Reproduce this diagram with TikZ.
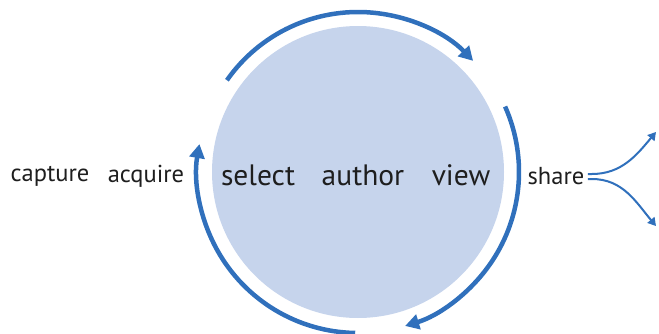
\documentclass[tikz,border=0pt]{standalone}
\usepackage{fontspec}
\setmainfont{PT Sans}
\usetikzlibrary{arrows.meta}
\definecolor{cycleblue}{RGB}{48,112,188}
\definecolor{discfill}{RGB}{198,212,236}
\definecolor{wordgray}{RGB}{30,30,30}
\tikzset{
  ring/.style={cycleblue,line width=4.5pt,-{Triangle[length=14pt,width=15pt]}},
  branch/.style={cycleblue,line width=2pt,-{Triangle[length=8pt,width=9pt]}},
  bigword/.style={text=wordgray,font=\fontsize{29.5}{31}\selectfont},
  smallword/.style={text=wordgray,font=\fontsize{24.5}{26}\selectfont}
}
\begin{document}
\begin{tikzpicture}[x=1pt,y=1pt]
\useasboundingbox (0,0) rectangle (659,333);
% Disc in the middle
\coordinate (c) at (358,161);
\fill[discfill] (c) circle (146);

% The three arcs around the disc
\draw[ring] (c) ++(145:160) arc (145:44:160);
\draw[ring] (c) ++(24:161) arc (24:-73:161);
\draw[ring] (c) ++(-91:161) arc (269:170:161);

% Words
\node[bigword] (select) at (258,158) {select};
\node[bigword] (author) at (363,158) {author};
\node[bigword] (view) at (461,158) {view};
\node[smallword] (capture) at (50,157) {capture};
\node[smallword] (acquire) at (146,157) {acquire};
\node[smallword] (share) at (556,157) {share};

% Two ways out of share
\coordinate (up) at (656,201);
\coordinate (down) at (656,107);
\draw[branch] ([yshift=2pt]share.east) -- ++(4,0) to[out=0,in=230] (up);
\draw[branch] ([yshift=-3pt]share.east) -- ++(4,0) to[out=0,in=130] (down);
\end{tikzpicture}
\end{document}
